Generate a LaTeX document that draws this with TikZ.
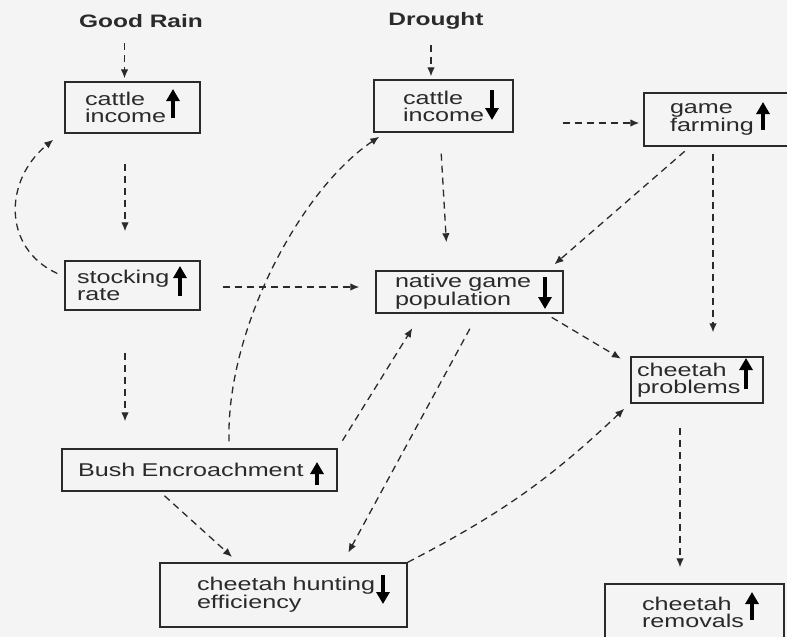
\documentclass[tikz,border=0pt]{standalone}
\usepackage{fontspec}
\usepackage{xcolor}
\usepackage{tikz}
\usetikzlibrary{arrows.meta, positioning}
\newfontfamily\boxfont[FakeStretch=1.36]{Liberation Sans}
\hyphenpenalty=10000
\definecolor{ink}{HTML}{2A2A2A}
\definecolor{paper}{HTML}{F4F4F4}
\tikzstyle{box} = [rectangle, draw=ink, line width=1.4pt, align=left, text=ink, font=\boxfont\fontsize{18.5}{17}\selectfont]
\tikzstyle{title} = [text=ink, font=\boxfont\bfseries\fontsize{18}{17}\selectfont]
\tikzstyle{line} = [draw=ink, line width=1.3pt, dash pattern=on 7pt off 5pt, -{Latex[length=9pt, width=7.5pt]}]
\tikzstyle{trend} = [draw=black, line width=3.2pt, -{Triangle[length=12pt, width=13pt]}]

\begin{document}
\begin{tikzpicture}[x=1pt, y=-1pt]
    \fill[paper] (0,0) rectangle (787,637);
    \useasboundingbox (0,0) rectangle (787,637);
    % Nodes
    \node [title] (rain) at (141,21) {Good Rain};
    \node [title] (drought) at (436,21) {Drought};
    \node [box, minimum width=135pt, minimum height=51pt, text width=95pt] (ciL) at (132.5,107.5) {cattle\\income};
    \node [box, minimum width=139pt, minimum height=52pt, text width=81pt] (ciD) at (443.5,106) {cattle\\income};
    \node [box, minimum width=160pt, minimum height=53pt, text width=108pt] (gf) at (724,119.5) {game\\farming};
    \node [box, minimum width=135pt, minimum height=49pt, text width=111pt] (sr) at (132.5,285.5) {stocking\\rate};
    \node [box, minimum width=187pt, minimum height=42pt, text width=149pt] (ngp) at (469.5,292) {native~game\\population};
    \node [box, minimum width=132pt, minimum height=46pt, text width=120pt] (cp) at (697,380) {cheetah\\problems};
    \node [box, minimum width=275pt, minimum height=42pt, text width=243pt] (be) at (199.5,470) {Bush~Encroachment};
    \node [box, minimum width=247pt, minimum height=64pt, text width=173pt] (che) at (283.5,595) {cheetah~hunting\\efficiency};
    \node [box, minimum width=179pt, minimum height=56pt, text width=105pt] (cr) at (694.5,612) {cheetah\\removals};

    % Trend arrows
    \draw [trend] (173,118) -- (173,89);
    \draw [trend] (492,90) -- (492,120);
    \draw [trend] (763,130) -- (763,102);
    \draw [trend] (180,296) -- (180,266);
    \draw [trend] (545,277) -- (545,309);
    \draw [trend] (746,389) -- (746,358);
    \draw [trend] (317,485) -- (317,462);
    \draw [trend] (383,575) -- (383,604);
    \draw [trend] (752,620) -- (752,592);

    % Edges
    \path [line, shorten <=12pt, shorten >=3pt] ([xshift=-8pt]ciL.north |- rain.south) -- ([xshift=-8pt]ciL.north);
    \path [line, shorten <=12pt, shorten >=3pt] ([xshift=-12.5pt]ciD.north |- drought.south) -- ([xshift=-12.5pt]ciD.north);
    \path [line, shorten <=30pt, shorten >=29pt] ([xshift=-7.5pt]ciL.south) -- ([xshift=-7.5pt]sr.north);
    \path [line] ([xshift=-7pt, yshift=12pt]sr.west) .. controls (2,248) and (4,180) .. ([xshift=-11pt, yshift=-6pt]ciL.south west);
    \path [line, shorten <=22pt, shorten >=16pt] ([yshift=-1.5pt]sr.east) -- ([yshift=-1.5pt]sr.east -| ngp.west);
    \path [line, shorten <=42pt, shorten >=27pt] ([xshift=-7.5pt]sr.south) -- ([xshift=-7.5pt]sr.south |- be.north);
    \path [line] ([xshift=29.5pt, yshift=7pt]be.north) .. controls (226,330) and (300,190) .. ([xshift=6pt, yshift=-4pt]ciD.south west);
    \path [line, shorten <=21pt, shorten >=28pt] ([xshift=-3.5pt]ciD.south) -- ([xshift=-21.5pt]ngp.north);
    \path [line, shorten <=49pt, shorten >=4pt] ([yshift=-3.5pt]gf.west -| ciD.east) -- ([yshift=-3.5pt]gf.west);
    \path [line, shorten <=7pt, shorten >=9pt] ([xshift=-34pt]gf.south) -- ([xshift=-16pt]ngp.north east);
    \path [line, shorten <=7pt, shorten >=24pt] ([xshift=-11pt]gf.south) -- ([xshift=-11pt]gf.south |- cp.north);
    \path [line, shorten <=7pt, shorten >=11pt] ([xshift=-18pt]ngp.south east) -- ([yshift=-8pt]cp.north west);
    \path [line, shorten <=9pt, shorten >=17pt] (be.north east) -- ([xshift=46pt]ngp.south west);
    \path [line, shorten <=17pt, shorten >=11pt] ([xshift=8.5pt]ngp.south) -- ([xshift=59.5pt]che.north);
    \path [line, shorten <=6pt, shorten >=8pt] ([xshift=-39.5pt]be.south) -- ([xshift=-45.5pt]che.north);
    \path [line] (che.north east) to [bend right=8] ([xshift=-6pt, yshift=-5pt]cp.south west);
    \path [line, shorten <=24pt, shorten >=16pt] ([xshift=-17pt]cp.south) -- ([xshift=-17pt]cp.south |- cr.north);
\end{tikzpicture}
\end{document}
